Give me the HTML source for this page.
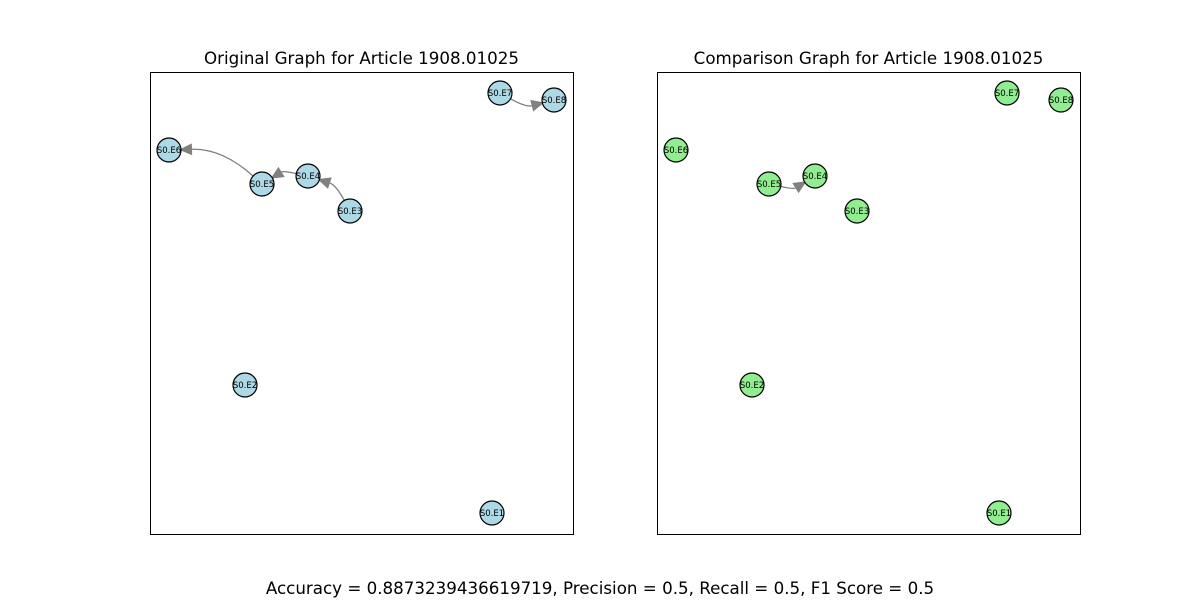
<!DOCTYPE html>
<html><head><meta charset="utf-8"><style>
body{margin:0;background:#fff;width:1200px;height:600px;overflow:hidden;font-family:"Liberation Sans","DejaVu Sans",sans-serif}
svg text{font-family:"DejaVu Sans","Liberation Sans",sans-serif}
</style></head><body>
<svg id="c" width="1200" height="600" xmlns="http://www.w3.org/2000/svg">
<rect x="150.5" y="72.5" width="423" height="462" fill="#fff" stroke="#000"/>
<rect x="657.5" y="72.5" width="423" height="462" fill="#fff" stroke="#000"/>
<text x="361.5" y="64" font-size="16.7" text-anchor="middle">Original Graph for Article 1908.01025</text>
<text x="868.5" y="64" font-size="16.7" text-anchor="middle">Comparison Graph for Article 1908.01025</text>
<text x="600" y="594" font-size="16.7" text-anchor="middle">Accuracy = 0.8873239436619719, Precision = 0.5, Recall = 0.5, F1 Score = 0.5</text>
<g id="g1"></g><g id="g2"></g>
</svg>
<script>
const nodeNames=["S0.E1","S0.E2","S0.E3","S0.E4","S0.E5","S0.E6","S0.E7","S0.E8"];
const nodeX=[342,95,200,158,112,19,350,404];
const nodeY=[441,313,139,104,112,78,21,28];
const edgesOriginal=[["S0.E3","S0.E4"],["S0.E4","S0.E5"],["S0.E5","S0.E6"],["S0.E7","S0.E8"]];
const edgesComparison=[["S0.E5","S0.E4"]];
const NS="http://www.w3.org/2000/svg";
function mk(t,a,p){const e=document.createElementNS(NS,t);for(const k in a)e.setAttribute(k,a[k]);p.appendChild(e);return e;}
function draw(g,ox,edges,fill,prefix){
  const px=i=>ox+nodeX[i], py=i=>72+nodeY[i];
  const R=12, rad=0.2;
  edges.forEach(([s,t])=>{
    const a=nodeNames.indexOf(s),b=nodeNames.indexOf(t);
    const x1=px(a),y1=py(a),x2=px(b),y2=py(b);
    const dx=x2-x1,dy=-(y2-y1);
    const cx=(x1+x2)/2+rad*dy, cy=(y1+y2)/2+rad*dx;
    let ux=x2-cx,uy=y2-cy;const L=Math.hypot(ux,uy);ux/=L;uy/=L;
    let vx=x1-cx,vy=y1-cy;const L2=Math.hypot(vx,vy);vx/=L2;vy/=L2;
    const tipx=x2-ux*(R-2),tipy=y2-uy*(R-2);
    const sx=x1-vx*R,sy=y1-vy*R;
    const bx=tipx-ux*13,by=tipy-uy*13;
    const p=mk('path',{d:`M${sx},${sy} Q${cx},${cy} ${bx},${by}`,fill:'none',stroke:'#808080','stroke-width':1.3},g);
    
    
    const nx=-uy,ny=ux;
    const h=mk('polygon',{points:`${tipx},${tipy} ${bx+nx*6},${by+ny*6} ${bx-nx*6},${by-ny*6}`,fill:'#808080'},g);
    
    
  });
  nodeNames.forEach((n,i)=>{
    const c=mk('circle',{cx:px(i),cy:py(i),r:R,fill:fill,stroke:'#000','stroke-width':1.2},g);
    
    
    const t=mk('text',{x:px(i),y:py(i)+3,'font-size':8.5,'text-anchor':'middle'},g);
    t.textContent=n;
    
    
  });
}
draw(document.getElementById('g1'),150,edgesOriginal,'#add8e6','original');
draw(document.getElementById('g2'),657,edgesComparison,'#90ee90','comparison');
</script>
</body></html>
